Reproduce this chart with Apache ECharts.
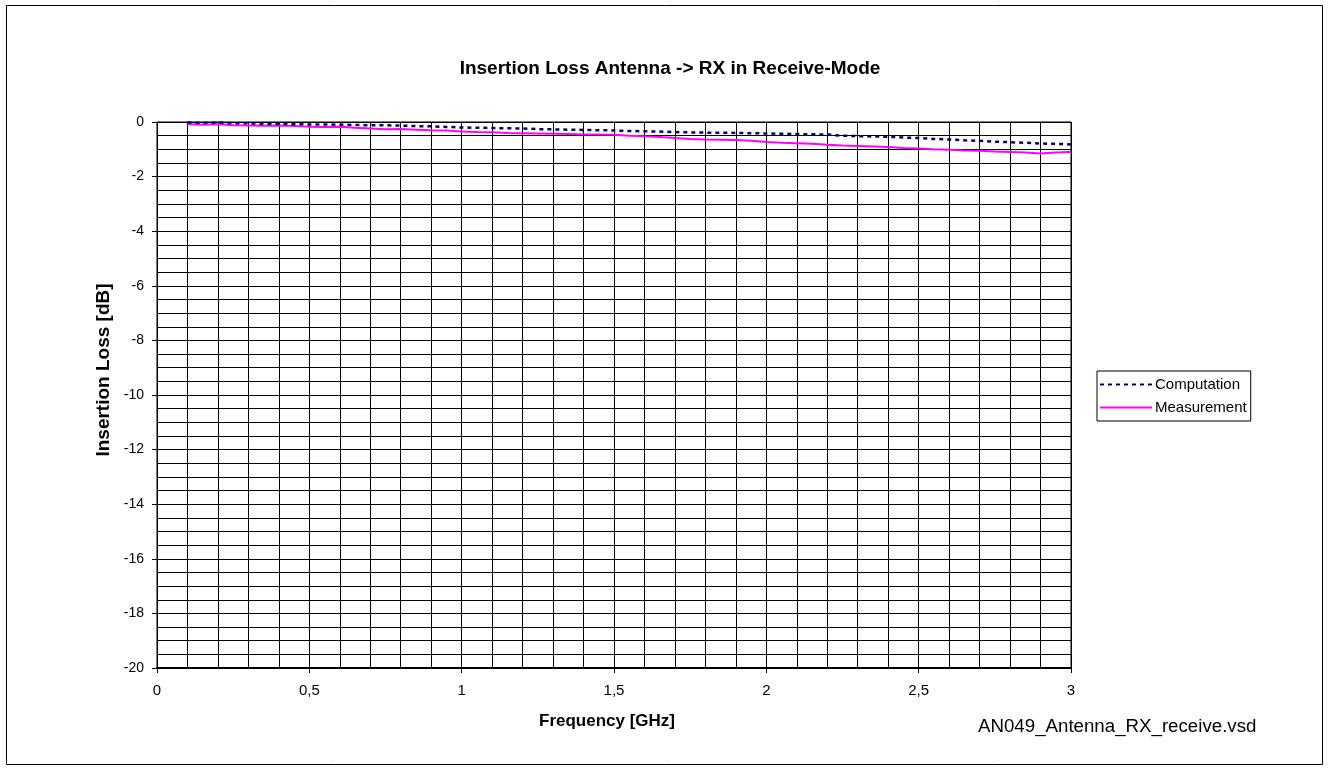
<!DOCTYPE html>
<html>
<head>
<meta charset="utf-8">
<script src="https://cdn.jsdelivr.net/npm/echarts@6/dist/echarts.min.js"></script>
<style>
  html, body { margin: 0; padding: 0; background: #fff; }
  #chart { width: 1329px; height: 771px; }
</style>
</head>
<body>
<div id="chart"></div>
<script>
// frequency points in GHz
var freq = [0.10, 0.15, 0.20, 0.25, 0.30, 0.35, 0.40, 0.45, 0.50, 0.55,
            0.60, 0.65, 0.70, 0.75, 0.80, 0.85, 0.90, 0.95, 1.00, 1.05,
            1.10, 1.15, 1.20, 1.25, 1.30, 1.35, 1.40, 1.45, 1.50, 1.55,
            1.60, 1.65, 1.70, 1.75, 1.80, 1.85, 1.90, 1.95, 2.00, 2.05,
            2.10, 2.15, 2.20, 2.25, 2.30, 2.35, 2.40, 2.45, 2.50, 2.55,
            2.60, 2.65, 2.70, 2.75, 2.80, 2.85, 2.90, 2.95, 3.00];

var computation = [-0.02, -0.03, -0.02, -0.04, -0.05, -0.07, -0.07, -0.08, -0.09, -0.09,
                   -0.10, -0.11, -0.12, -0.12, -0.13, -0.15, -0.16, -0.18, -0.20, -0.21,
                   -0.22, -0.23, -0.24, -0.26, -0.27, -0.28, -0.29, -0.30, -0.31, -0.33,
                   -0.34, -0.35, -0.37, -0.38, -0.39, -0.39, -0.40, -0.41, -0.42, -0.43,
                   -0.44, -0.45, -0.46, -0.50, -0.52, -0.53, -0.54, -0.57, -0.59, -0.62,
                   -0.64, -0.67, -0.69, -0.72, -0.74, -0.76, -0.79, -0.80, -0.82];

var measurement = [-0.08, -0.10, -0.08, -0.12, -0.13, -0.14, -0.13, -0.15, -0.17, -0.18,
                   -0.17, -0.21, -0.24, -0.27, -0.26, -0.28, -0.30, -0.31, -0.35, -0.37,
                   -0.38, -0.40, -0.41, -0.42, -0.43, -0.44, -0.46, -0.46, -0.47, -0.50,
                   -0.52, -0.55, -0.59, -0.62, -0.64, -0.65, -0.66, -0.69, -0.73, -0.76,
                   -0.78, -0.80, -0.83, -0.86, -0.88, -0.90, -0.92, -0.95, -0.97, -1.00,
                   -1.02, -1.04, -1.05, -1.08, -1.10, -1.12, -1.15, -1.12, -1.10];

var seriesNames = ['Computation', 'Measurement'];

function pairs(xs, ys) {
    var out = [];
    for (var i = 0; i < xs.length; i++) out.push([xs[i], ys[i]]);
    return out;
}

var myChart = echarts.init(document.getElementById('chart'));

var font = 'Arial, "Liberation Sans", sans-serif';

var option = {
    backgroundColor: '#fff',
    animation: false,
    title: {
        text: 'Insertion Loss Antenna -> RX in Receive-Mode',
        left: 665,
        textAlign: 'center',
        top: 54,
        textStyle: { fontFamily: font, fontSize: 19, fontWeight: 'bold', color: '#000' }
    },
    legend: {
        orient: 'vertical',
        left: 1097,
        top: 371,
        data: seriesNames,
        itemWidth: 52,
        itemHeight: 10,
        itemGap: 8,
        padding: [6, 4, 6, 2],
        borderColor: '#000',
        borderWidth: 1,
        itemStyle: { opacity: 0 },
        textStyle: { fontFamily: font, fontSize: 15, color: '#000', padding: [0, 0, 0, -2] }
    },
    grid: {
        left: 157,
        top: 122,
        right: 258,
        bottom: 103,
        show: true,
        borderColor: '#000',
        borderWidth: 1
    },
    xAxis: {
        type: 'value',
        min: 0,
        max: 3,
        interval: 0.5,
        name: 'Frequency [GHz]',
        nameLocation: 'middle',
        nameGap: 45,
        nameTextStyle: { fontFamily: font, fontSize: 17, fontWeight: 'bold', color: '#000', padding: [0, 14, 0, 0] },
        axisLine: { show: true, onZero: false, lineStyle: { color: '#000', width: 2 } },
        axisTick: { show: true, length: 5, lineStyle: { color: '#000' } },
        axisLabel: {
            fontFamily: font, fontSize: 15, color: '#000', margin: 15,
            formatter: function (v) { return String(v).replace('.', ','); }
        },
        splitLine: { show: true, lineStyle: { color: '#000', width: 1 } },
        minorTick: { show: false, splitNumber: 5 },
        minorSplitLine: { show: true, lineStyle: { color: '#000', width: 1 } }
    },
    yAxis: {
        type: 'value',
        min: -20,
        max: 0,
        interval: 2,
        name: 'Insertion Loss [dB]',
        nameLocation: 'middle',
        nameGap: 44,
        nameTextStyle: { fontFamily: font, fontSize: 19, fontWeight: 'bold', color: '#000', padding: [0, 0, 0, 50] },
        axisLine: { show: true, onZero: false, lineStyle: { color: '#000', width: 1 } },
        axisTick: { show: true, length: 5, lineStyle: { color: '#000' } },
        axisLabel: { fontFamily: font, fontSize: 14, color: '#000', margin: 13 },
        splitLine: { show: true, lineStyle: { color: '#000', width: 1 } },
        minorTick: { show: false, splitNumber: 4 },
        minorSplitLine: { show: true, lineStyle: { color: '#000', width: 1 } }
    },
    series: [
        {
            name: seriesNames[0],
            type: 'line',
            data: pairs(freq, computation),
            showSymbol: false,
            symbol: 'none',
            z: 3,
            itemStyle: { color: '#000080' },
            lineStyle: { color: '#000080', width: 2.5, type: [4, 4] }
        },
        {
            name: seriesNames[1],
            type: 'line',
            data: pairs(freq, measurement),
            showSymbol: false,
            symbol: 'none',
            z: 2,
            itemStyle: { color: '#ff00ff' },
            lineStyle: { color: '#ff00ff', width: 2 }
        }
    ],
    graphic: [
        {
            type: 'rect',
            shape: { x: 6.5, y: 5.5, width: 1316, height: 759 },
            style: { fill: 'none', stroke: '#000', lineWidth: 1 },
            silent: true
        },
        {
            type: 'text',
            left: 978,
            top: 717,
            style: { text: 'AN049_Antenna_RX_receive.vsd', font: '18.7px ' + font, fill: '#000' }
        }
    ]
};

myChart.setOption(option);
</script>
</body>
</html>
